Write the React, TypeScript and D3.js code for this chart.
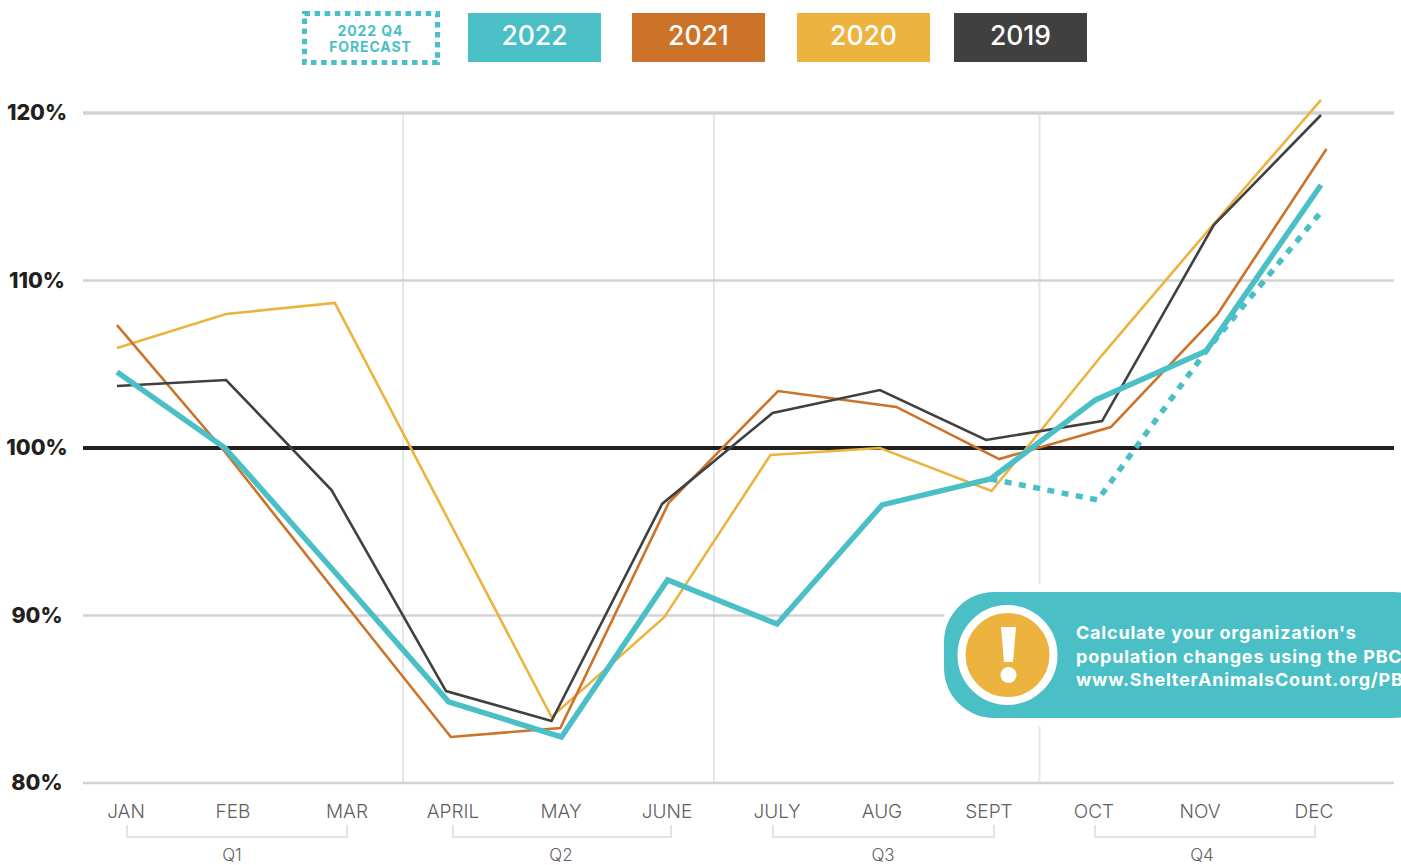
import React from 'react';
import * as d3 from 'd3';

const months = ['JAN', 'FEB', 'MAR', 'APRIL', 'MAY', 'JUNE', 'JULY', 'AUG', 'SEPT', 'OCT', 'NOV', 'DEC'];
const quarters = ['Q1', 'Q2', 'Q3', 'Q4'];
const yTicks = [120, 110, 100, 90, 80];
const legendYears = ['2022', '2021', '2020', '2019'];

// the source is hand placed, so every series has its own month positions
const pos2022 = [0, 0.987, 1.99, 3.03, 4.06, 5.03, 6.03, 6.99, 7.98, 8.94, 9.95, 11];
const val2022 = [104.54, 100, 92.6, 84.84, 82.75, 92.12, 89.49, 96.6, 98.15, 102.87, 105.79, 115.7];
const posForecast = [7.98, 8.96, 9.95, 11];
const valForecast = [98.15, 96.9, 105.79, 114.09];
const pos2021 = [0, 0.987, 1.99, 3.05, 4.05, 5.04, 6.04, 7.12, 8.06, 9.08, 10.05, 11.05];
const val2021 = [107.34, 99.76, 91.46, 82.75, 83.28, 96.72, 103.4, 102.45, 99.34, 101.25, 107.94, 117.85];
const pos2020 = [0, 0.997, 1.99, 3.0, 3.97, 5.0, 5.97, 6.97, 7.99, 9.0, 10.01, 11];
const val2020 = [105.97, 108, 108.66, 96.06, 83.94, 89.9, 99.58, 100, 97.43, 105.55, 113.3, 120.78];
const pos2019 = [0, 0.997, 1.96, 3.006, 3.97, 4.98, 5.99, 6.97, 7.94, 9.0, 10.02, 11];
const val2019 = [103.7, 104.06, 97.49, 85.49, 83.7, 96.66, 102.09, 103.46, 100.48, 101.61, 113.31, 119.88];

const TEAL = '#4abfc6';
const ORANGE = '#cc7229';
const YELLOW = '#ecb33f';
const DARK = '#404040';
const FONT = 'Inter, "Open Sans", sans-serif';

const x = d3.scaleLinear().domain([0, 11]).range([117, 1321]);
const y = d3.scaleLinear().domain([80, 120]).range([783, 113]);
const monthX = d3.scaleOrdinal<string, number>().domain(months)
  .range([126, 233, 347, 453, 561, 667, 777, 882, 989, 1094, 1200, 1314]);
const quarterX = d3.scaleOrdinal<string, number>().domain(quarters).range([232, 561, 883, 1202]);
const bracketLeft = d3.scaleOrdinal<string, number>().domain(quarters).range([127, 453, 773, 1095]);
const bracketRight = d3.scaleOrdinal<string, number>().domain(quarters).range([347, 671, 994, 1315]);
const legendX = d3.scaleOrdinal<string, number>().domain(legendYears).range([468, 632, 797, 954]);
const legendFill = d3.scaleOrdinal<string, string>().domain(legendYears).range([TEAL, ORANGE, YELLOW, DARK]);

const pathFor = (pos: number[], val: number[]) =>
  d3.line<number>().x((d) => x(d)).y((_, i) => y(val[i]))(pos) || '';

const quarterLines = [403, 714, 1039.5];

export default function App() {
  return (
    <svg width={1401} height={865} style={{ position: 'absolute', left: 0, top: 0, display: 'block', fontFamily: FONT }}>
      {/* quarter dividers */}
      {quarterLines.map((px) => (
        <line key={px} x1={px} x2={px} y1={115} y2={783} stroke="#e6e7e8" strokeWidth={2} />
      ))}

      {/* horizontal grid */}
      {yTicks.map((t) => (
        <g key={t}>
          <line x1={83} x2={1394} y1={y(t)} y2={y(t)}
            stroke={t === 100 ? '#231f20' : '#d1d3d4'} strokeWidth={t === 100 ? 4 : t === 120 ? 3.5 : 2.5} />
          <text x={37} y={y(t) - 0.5} dy="0.36em" textAnchor="middle" fontSize={21.5} fontWeight={800} fill="#231f20">{t}%</text>
        </g>
      ))}

      {/* series */}
      <path d={pathFor(pos2020, val2020)} fill="none" stroke={YELLOW} strokeWidth={2.6} />
      <path d={pathFor(pos2021, val2021)} fill="none" stroke={ORANGE} strokeWidth={2.6} />
      <path d={pathFor(pos2019, val2019)} fill="none" stroke={DARK} strokeWidth={2.6} />
      <path d={pathFor(posForecast, valForecast)} fill="none" stroke={TEAL} strokeWidth={5.5} strokeDasharray="7 7.5" />
      <path d={pathFor(pos2022, val2022)} fill="none" stroke={TEAL} strokeWidth={5.5} />

      {/* legend */}
      <rect x={304.5} y={13.5} width={133} height={49} fill="none" stroke={TEAL} strokeWidth={5} strokeDasharray="5.5 4.6" />
      <text x={370.5} y={36} textAnchor="middle" fontSize={14} fontWeight={700} letterSpacing={0.9} fill={TEAL}>2022 Q4</text>
      <text x={370.5} y={52} textAnchor="middle" fontSize={14} fontWeight={700} letterSpacing={0.9} fill={TEAL}>FORECAST</text>
      {legendYears.map((yr) => (
        <g key={yr}>
          <rect x={legendX(yr)} y={13} width={133} height={49} fill={legendFill(yr)} />
          <text x={legendX(yr) + 66.5} y={35.5} dy="0.36em" textAnchor="middle" fontSize={26.5} fontWeight={500} fill="#fff">{yr}</text>
        </g>
      ))}

      {/* month and quarter labels */}
      {months.map((m) => (
        <text key={m} x={monthX(m)} y={811} dy="0.36em" textAnchor="middle" fontSize={19} fontWeight={300} fill="#5f6062">{m}</text>
      ))}
      {quarters.map((q) => (
        <path key={q} d={`M${bracketLeft(q)},825V837H${bracketRight(q)}V825`} fill="none" stroke="#e3e4e5" strokeWidth={2} />
      ))}
      {quarters.map((q) => (
        <text key={q} x={quarterX(q)} y={854.5} dy="0.36em" textAnchor="middle" fontSize={17} fontWeight={300} fill="#5f6062">{q}</text>
      ))}

      {/* callout */}
      <rect x={936} y={584} width={520} height={142} rx={62} fill="#fff" />
      <rect x={944} y={592} width={500} height={126} rx={50} fill={TEAL} />
      <circle cx={1007.5} cy={655} r={46} fill={YELLOW} stroke="#fff" strokeWidth={8} />
      <path d="M1001,627H1016L1013,662H1004Z" fill="#fff" />
      <circle cx={1008.5} cy={675} r={8} fill="#fff" />
      <g fontSize={18} fontWeight={700} fill="#fff" letterSpacing={0.8}>
        <text x={1076} y={639}>Calculate your organization's</text>
        <text x={1076} y={663}>population changes using the PBC</text>
        <text x={1076} y={686}>www.ShelterAnimalsCount.org/PBC</text>
      </g>
    </svg>
  );
}
